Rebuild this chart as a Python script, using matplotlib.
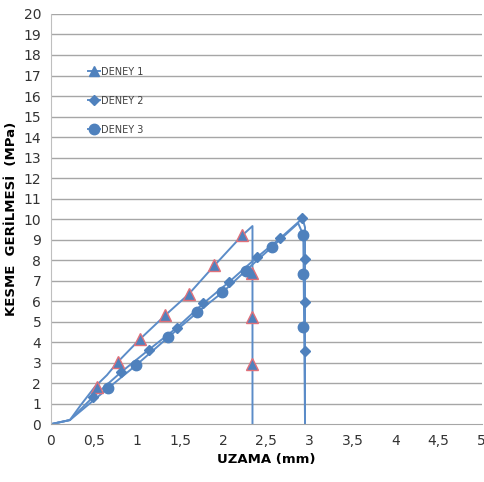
import matplotlib
matplotlib.use("Agg")
import matplotlib.pyplot as plt
from matplotlib.lines import Line2D

# DENEY 1 (triangles)
d1_line_x = [0, 0.22, 0.35, 0.51, 0.65, 0.78, 1.03, 1.33, 1.60, 1.89, 2.22, 2.34, 2.34]
d1_line_y = [0, 0.2, 0.95, 1.82, 2.39, 3.05, 4.13, 5.32, 6.34, 7.70, 9.20, 9.66, 0]
d1_mark_x = [0.53, 0.78, 1.03, 1.33, 1.60, 1.89, 2.22, 2.34, 2.34, 2.34]
d1_mark_y = [1.79, 3.04, 4.13, 5.32, 6.34, 7.74, 9.22, 7.35, 5.23, 2.91]

# DENEY 2 (diamonds)
d2_line_x = [0, 0.22, 0.49, 0.81, 1.14, 1.46, 1.77, 2.07, 2.39, 2.66, 2.92, 2.95, 2.95]
d2_line_y = [0, 0.2, 1.33, 2.52, 3.64, 4.70, 5.89, 6.94, 8.13, 9.06, 10.03, 9.6, 0]
d2_mark_x = [0.49, 0.81, 1.14, 1.46, 1.77, 2.07, 2.39, 2.66, 2.92, 2.95, 2.95, 2.95]
d2_mark_y = [1.33, 2.52, 3.64, 4.70, 5.89, 6.94, 8.13, 9.06, 10.03, 8.03, 5.94, 3.56]

# DENEY 3 (circles)
d3_line_x = [0, 0.22, 0.66, 0.99, 1.36, 1.70, 1.99, 2.26, 2.57, 2.87, 2.93, 2.95]
d3_line_y = [0, 0.2, 1.74, 2.88, 4.23, 5.45, 6.42, 7.48, 8.65, 9.80, 9.22, 0]
d3_mark_x = [0.66, 0.99, 1.36, 1.70, 1.99, 2.26, 2.57, 2.93, 2.93, 2.93]
d3_mark_y = [1.74, 2.88, 4.23, 5.45, 6.42, 7.48, 8.65, 9.22, 7.30, 4.75]

labels = ["DENEY 1", "DENEY 2", "DENEY 3"]
x_ticks = [0, 0.5, 1, 1.5, 2, 2.5, 3, 3.5, 4, 4.5, 5]
x_tick_labels = ["0", "0,5", "1", "1,5", "2", "2,5", "3", "3,5", "4", "4,5", "5"]
y_ticks = list(range(0, 21))

blue = "#4f81bd"
line_blue = "#5b8cc8"
red_edge = "#e0707a"

fig = plt.figure(figsize=(4.85, 4.82), dpi=100)
ax = fig.add_axes([0.105, 0.12, 0.888, 0.851])

for y in y_ticks[1:]:
    ax.axhline(y, color="#a6a6a6", lw=1.0, zorder=0)

ax.plot(d1_line_x, d1_line_y, color=line_blue, lw=1.4, zorder=2)
ax.plot(d2_line_x, d2_line_y, color=line_blue, lw=1.4, zorder=2)
ax.plot(d3_line_x, d3_line_y, color=line_blue, lw=1.4, zorder=2)

ax.plot(d1_mark_x, d1_mark_y, ls="none", marker="^", ms=8, mfc=blue, mec=red_edge, mew=1.0, zorder=3)
ax.plot(d2_mark_x, d2_mark_y, ls="none", marker="D", ms=5, mfc=blue, mec=blue, zorder=3)
ax.plot(d3_mark_x, d3_mark_y, ls="none", marker="o", ms=7.5, mfc=blue, mec=blue, zorder=3)

ax.set_xlim(0, 5)
ax.set_ylim(0, 20)
ax.set_xticks(x_ticks)
ax.set_xticklabels(x_tick_labels)
ax.set_yticks(y_ticks)
ax.tick_params(length=0, labelsize=10, colors="#333333", pad=7)
for s in ["top", "right"]:
    ax.spines[s].set_visible(False)
ax.spines["left"].set_color("#bfbfbf")
ax.spines["bottom"].set_color("#a6a6a6")

ax.set_xlabel("UZAMA (mm)", fontsize=9.5, fontweight="bold", labelpad=4)
ax.set_ylabel("KESME  GERİLMESİ  (MPa)", fontsize=9.5, fontweight="bold", labelpad=4)

handles = [
    Line2D([], [], color=line_blue, lw=1.4, marker="^", ms=7.5, mfc=blue, mec=blue),
    Line2D([], [], color=line_blue, lw=1.4, marker="D", ms=5, mfc=blue, mec=blue),
    Line2D([], [], color=line_blue, lw=1.4, marker="o", ms=7.5, mfc=blue, mec=blue),
]
leg = ax.legend(handles, labels, loc="upper left", bbox_to_anchor=(0.065, 0.893),
                frameon=False, fontsize=7, handlelength=1.3, handletextpad=0.1,
                labelspacing=1.95)
for t in leg.get_texts():
    t.set_color("#404040")

fig.savefig("out.png", dpi=100)
